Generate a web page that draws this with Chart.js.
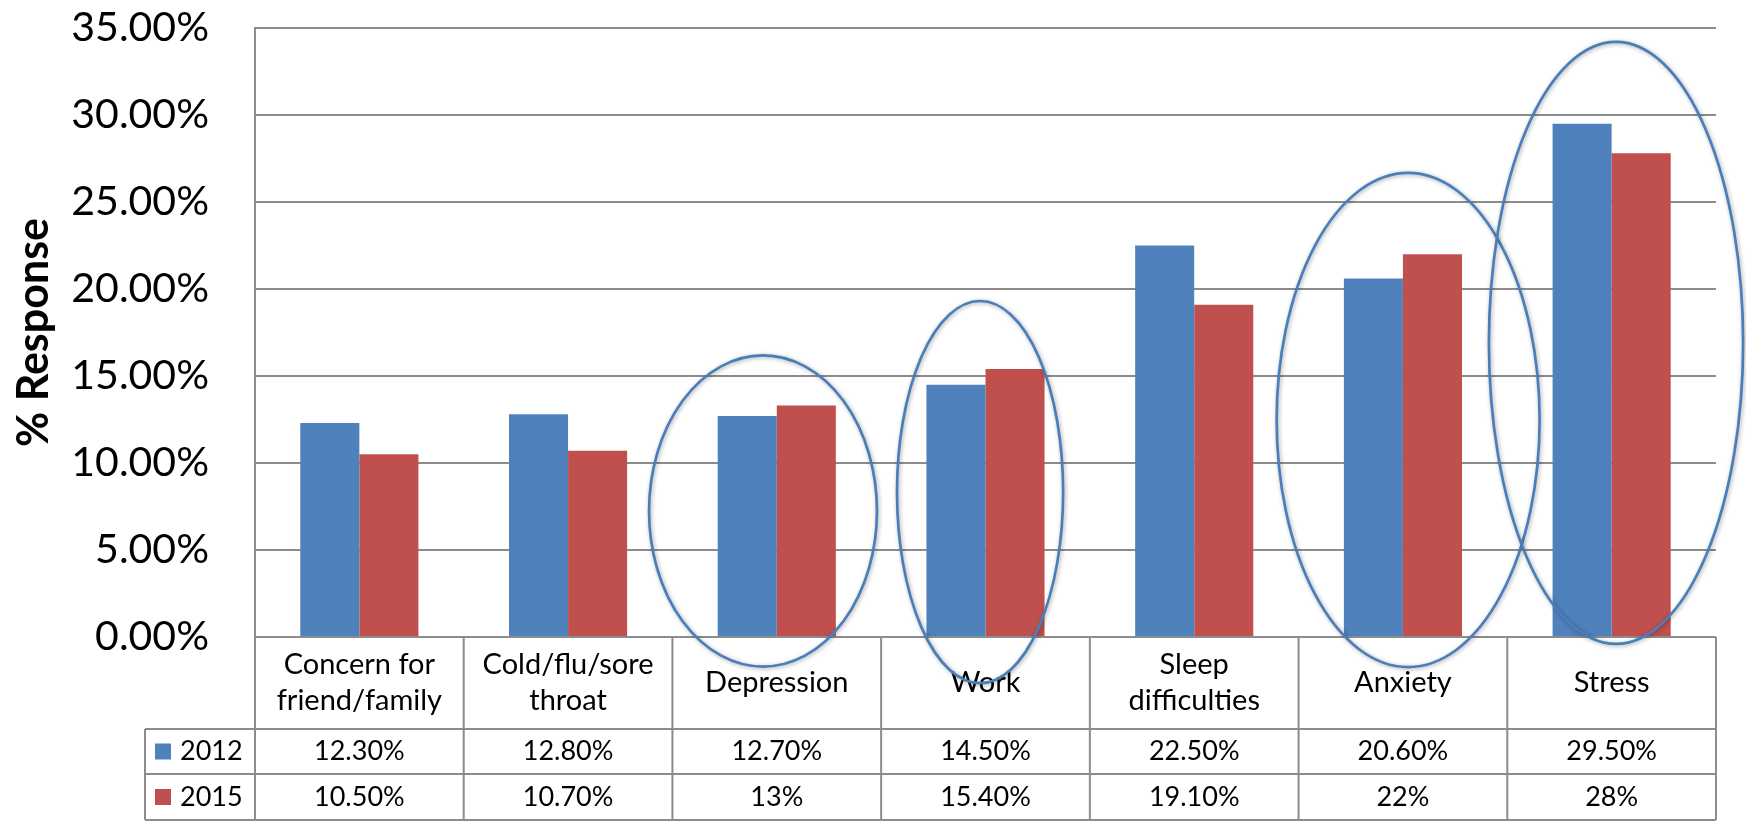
<!DOCTYPE html>
<html><head><meta charset="utf-8">
<script src="https://cdn.jsdelivr.net/npm/chart.js@4"></script>
<style>html,body{margin:0;padding:0;background:#fff}#wrap{width:1746px;height:821px}</style>
</head><body><div id="wrap"><canvas id="c" width="1746" height="821"></canvas></div>
<script>
// ---- data ----
const categories = [["Concern for","friend/family"],["Cold/flu/sore","throat"],["Depression"],["Work"],["Sleep","difficulties"],["Anxiety"],["Stress"]];
const seriesNames = ["2012","2015"];
const values2012 = [12.3, 12.8, 12.7, 14.5, 22.5, 20.6, 29.5];
const values2015 = [10.5, 10.7, 13.3, 15.4, 19.1, 22.0, 27.8];
const table2012 = ["12.30%","12.80%","12.70%","14.50%","22.50%","20.60%","29.50%"];
const table2015 = ["10.50%","10.70%","13%","15.40%","19.10%","22%","28%"];
const yMin = 0, yMax = 35, yStep = 5;
const yTitle = "% Response";
// highlight ellipses: centre (category index, value), radii (category widths, value units)
const highlightCat = [1.934, 2.974, 5.025, 6.021];
const highlightVal = [7.24, 8.33, 12.47, 16.9];
const highlightRx = [0.546, 0.398, 0.63, 0.609];
const highlightRy = [8.94, 10.98, 14.2, 17.3];

// ---- styles ----
const colors = ["#4F81BD", "#C0504D"];
const gridColor = "#8c8c8c";
const FONT = "Lato, 'Liberation Sans', sans-serif";

const tablePlugin = {
  id: 'dataTable',
  afterDraw(chart) {
    const {ctx, chartArea, scales: {x}} = chart;
    const n = categories.length;
    const cw = (chartArea.right - chartArea.left) / n;
    const top = chartArea.bottom;
    const hdrBottom = top + 92;
    const r1 = hdrBottom + 45;
    const r2 = 820;
    const legLeft = 145;
    ctx.save();
    ctx.strokeStyle = gridColor;
    ctx.lineWidth = 2;
    const line = (a, b, c, d) => { ctx.beginPath(); ctx.moveTo(a, b); ctx.lineTo(c, d); ctx.stroke(); };
    line(chartArea.left, top, chartArea.right, top);
    line(legLeft, hdrBottom, chartArea.right, hdrBottom);
    line(legLeft, r1, chartArea.right, r1);
    line(legLeft, r2, chartArea.right, r2);
    for (let i = 0; i <= n; i++) {
      const xx = (i < n ? x.getPixelForValue(i) - cw / 2 : x.getPixelForValue(n - 1) + cw / 2);
      line(xx, top, xx, r2);
    }
    line(legLeft, hdrBottom, legLeft, r2);
    ctx.fillStyle = '#000';
    ctx.textAlign = 'center';
    ctx.textBaseline = 'middle';
    const hdrMid = (top + hdrBottom) / 2;
    const lh = 36;
    categories.forEach((lab, i) => {
      const cx = x.getPixelForValue(i);
      const y0 = hdrMid - (lab.length - 1) * lh / 2;
      ctx.font = "29px " + FONT;
      lab.forEach((t, k) => ctx.fillText(t, cx, y0 + k * lh));
      ctx.font = "27px " + FONT;
      ctx.fillText(table2012[i], cx, (hdrBottom + r1) / 2);
      ctx.fillText(table2015[i], cx, (r1 + r2) / 2);
    });
    // legend cells
    const rows = [[(hdrBottom + r1) / 2, 0], [(r1 + r2) / 2, 1]];
    rows.forEach(([ym, s]) => {
      ctx.fillStyle = colors[s];
      ctx.fillRect(155, ym - 8, 16, 16);
      ctx.fillStyle = '#000';
      ctx.textAlign = 'left';
      ctx.fillText(seriesNames[s], 180, ym);
    });
    // highlight ellipses
    const {y} = chart.scales;
    const pxPerUnit = y.getPixelForValue(0) - y.getPixelForValue(1);
    ctx.strokeStyle = '#4A7EBB';
    ctx.lineWidth = 2.7;
    ctx.shadowColor = 'rgba(0,0,0,0.35)';
    ctx.shadowBlur = 4;
    ctx.shadowOffsetX = 1;
    ctx.shadowOffsetY = 1;
    highlightCat.forEach((c, i) => {
      const cx = x.getPixelForValue(c);
      const cy = y.getPixelForValue(highlightVal[i]);
      ctx.beginPath();
      ctx.ellipse(cx, cy, highlightRx[i] * cw, highlightRy[i] * pxPerUnit, 0, 0, Math.PI * 2);
      ctx.stroke();
    });
    ctx.restore();
  }
};

new Chart(document.getElementById('c'), {
  type: 'bar',
  data: {
    labels: categories,
    datasets: [
      {label: seriesNames[0], data: values2012, backgroundColor: colors[0], categoryPercentage: 0.566, barPercentage: 1},
      {label: seriesNames[1], data: values2015, backgroundColor: colors[1], categoryPercentage: 0.566, barPercentage: 1}
    ]
  },
  options: {
    responsive: false,
    devicePixelRatio: 1,
    animation: false,
    layout: {padding: {top: 28, right: 30, bottom: 184, left: 0}},
    plugins: {legend: {display: false}, tooltip: {enabled: false}},
    scales: {
      x: {display: false},
      y: {
        min: yMin, max: yMax,
        afterFit(scale) { scale.width = 255; scale.paddingTop = 0; scale.paddingBottom = 0; },
        ticks: {stepSize: yStep, padding: 46, color: '#000', font: {family: FONT, size: 41},
          callback: v => v.toFixed(2) + '%'},
        grid: {color: gridColor, lineWidth: 2, drawTicks: false},
        border: {display: true, color: gridColor, width: 2},
        title: {display: true, text: yTitle, color: '#000', font: {family: FONT, size: 43, weight: 'bold'}, padding: {top: 8, bottom: 0}}
      }
    }
  },
  plugins: [tablePlugin]
});
</script></body></html>
